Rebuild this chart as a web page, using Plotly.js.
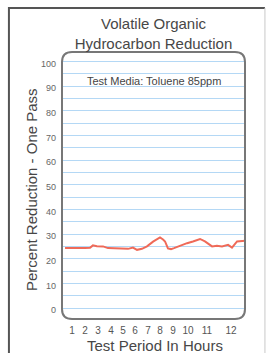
<!DOCTYPE html>
<html>
<head>
<meta charset="utf-8">
<script src="https://cdn.plot.ly/plotly-3.0.1.min.js"></script>
<style>
html,body{margin:0;padding:0;background:#fff;}
#chart{width:267px;height:353px;}
</style>
</head>
<body>
<div id="chart"></div>
<script>
// Hour positions of the sampled readings (axis units; ticks are the printed hour labels)
var hours = [0.52,1.21,1.90,2.25,2.45,2.73,3.15,3.49,3.98,4.46,4.88,5.22,5.50,5.84,6.19,6.61,6.88,7.09,7.30,7.44,7.64,7.85,8.06,8.47,8.96,9.37,9.86,10.20,10.48,10.69,11.03,11.38,11.80,12.07,12.42,12.76,12.97];
// Percent reduction, one pass
var reduction = [24.4,24.3,24.4,24.5,25.5,25.2,25.1,24.4,24.2,24.1,24.1,24.6,23.7,24.1,25.1,27.0,28.1,28.7,27.9,27.1,24.3,24.0,24.4,25.4,26.4,27.1,28.1,27.1,26.1,25.1,25.4,25.1,25.7,24.6,27.1,27.3,27.4];
// X tick labels and where they sit on the axis
var hourTickLabels = ["1","2","3","4","5","6","7","8","9","10","11","12"];
var hourTickPos = [1,1.90,2.80,3.70,4.53,5.36,6.26,7.09,7.99,9.03,10.34,12.0];
// Y gridlines every 5, labels every 10
var pctTickVals = [0,5,10,15,20,25,30,35,40,45,50,55,60,65,70,75,80,85,90,95,100];
var pctTickText = ["0","","10","","20","","30","","40","","50","","60","","70","","80","","90","","100"];

var FONT = "Liberation Sans, Arial, sans-serif";
var GRID = "#b4d8f5";

var trace = {
  x: hours, y: reduction, type: "scatter", mode: "lines",
  line: {color: "#ef6a58", width: 2, shape: "linear"},
  hoverinfo: "skip", showlegend: false
};

var layout = {
  width: 267, height: 353,
  margin: {l: 62, r: 22, t: 52, b: 34, pad: 0},
  paper_bgcolor: "#ffffff", plot_bgcolor: "#ffffff",
  showlegend: false,
  title: {
    text: "Volatile Organic<br>Hydrocarbon Reduction",
    font: {family: FONT, size: 15, color: "#474747"},
    x: 153.5/267, xref: "container", xanchor: "center",
    y: 1 - 29/353, yref: "container", yanchor: "middle"
  },
  xaxis: {
    range: [0.31, 12.97], showgrid: false, zeroline: false, showline: false,
    tickmode: "array", tickvals: hourTickPos, ticktext: hourTickLabels,
    ticks: "", ticklabelstandoff: 4,
    tickfont: {family: FONT, size: 10, color: "#555"}
  },
  yaxis: {
    range: [-4.34, 103.9], zeroline: false, showline: false,
    tickmode: "array", tickvals: pctTickVals, ticktext: pctTickText,
    ticks: "", showgrid: true, gridcolor: GRID, gridwidth: 1,
    ticklabelstandoff: 5, ticklabelshift: 2,
    tickfont: {family: "Liberation Sans Narrow, Liberation Sans, Arial, sans-serif", size: 9, color: "#666"}
  },
  shapes: [
    {type: "path", xref: "paper", yref: "paper",
     path: "M 0.055,0 L 0.945,0 Q 1,0 1,0.0375 L 1,0.9625 Q 1,1 0.945,1 L 0.055,1 Q 0,1 0,0.9625 L 0,0.0375 Q 0,0 0.055,0 Z",
     line: {color: "#777", width: 2}},
    {type: "path", xref: "paper", yref: "paper",
     path: "M -0.29,-0.2 L -0.29,1.165 L 1.109,1.165",
     line: {color: "#555", width: 2}},
    {type: "line", xref: "paper", yref: "paper", x0: 1.109, x1: 1.109, y0: 1.165, y1: -0.2,
     line: {color: "#c8c8c8", width: 1}}
  ],
  annotations: [
    {text: "Test Media: Toluene 85ppm", xref: "paper", yref: "paper",
     x: (154-62)/183, y: (319-81)/267, xanchor: "center", yanchor: "middle",
     showarrow: false, font: {family: FONT, size: 11, color: "#444"}},
    {text: "Percent Reduction - One Pass", xref: "paper", yref: "paper",
     x: (32-62)/183, y: (319-190)/267, xanchor: "center", yanchor: "middle", textangle: -90,
     showarrow: false, font: {family: FONT, size: 15, color: "#474747"}},
    {text: "Test Period In Hours", xref: "paper", yref: "paper",
     x: (155-62)/183, y: (319-345)/267, xanchor: "center", yanchor: "middle",
     showarrow: false, font: {family: FONT, size: 15, color: "#474747"}}
  ]
};

Plotly.newPlot("chart", [trace], layout, {staticPlot: true, displayModeBar: false});
</script>
</body>
</html>
